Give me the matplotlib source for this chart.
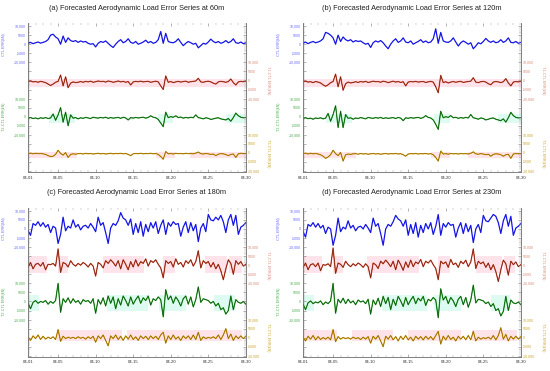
import matplotlib
matplotlib.use('Agg')
from matplotlib import pyplot as plt
from matplotlib import transforms
import matplotlib.dates as mdates
import numpy as np
import pandas as pd

plt.rcParams['font.family'] = ['Liberation Sans', 'DejaVu Sans']

# 8-hourly forecast times, 04-01 .. 04-30
times = pd.date_range('2019-04-01', '2019-04-30', freq='8h')

# ---- 60m ----
ctl_60 = [500, 1000, 300, 800, 1200, 600, 1000, 1500, 2500,
          5000, 5500, 4000, 3000, 0, 4500, 1000, 3500, 2000,
          1500, 2000, 1000, 1800, 1200, 1500, 500, 0, 300,
          -1500, 500, 1500, 1000, 1800, 500, -800, -1800, 0,
          1500, 2500, 800, 1500, 3000, 1000, 500, 1500, 0,
          500, 1200, 2200, 800, 1500, 500, 1000, 2500, 7000,
          500, 6000, 1500, 1000, 800, 1500, 3000, 1000, -800,
          500, 1500, 800, 0, 500, -2000, -800, 500, 0,
          1200, 2800, 1500, 800, 1500, 500, 1000, 2000, 800,
          1500, 3000, 800, 500, 1200, 300, 800]
t1_60 = [-500, -300, -800, -600, -1000, -500, -800, -1200, -2000,
         -2800, -2000, -1000, -500, 3000, -3000, 2000, -4000, -1500,
         -800, -1200, -1000, -600, -1000, -500, -800, -400, -1000,
         -700, -300, -600, -500, -900, -300, -600, -1000, -700,
         -300, -800, -500, -1000, -600, -2500, -800, -500, -700,
         -400, -800, -600, -500, -1000, -700, -400, -800, -3000,
         -5000, 2500, -1000, -600, -1200, -800, -500, -900, -600,
         -400, -1000, -700, -500, -300, 1200, -800, -1000, -600,
         -400, -800, -1500, -2000, -800, -500, -700, -1000, -600,
         800, -1200, -2500, -800, -500, -700, -400]
t2_60 = [-800, -500, -1000, -700, -1200, -600, -900, -500, -1000,
         -700, 1500, -2000, 1000, 5000, -3000, 2500, -5000, 1000,
         -800, -500, -1200, -600, -900, -400, -700, -1000, -300,
         -600, -800, -400, -700, -300, -900, -500, -800, -600,
         -400, -900, -300, -700, -1800, -500, -800, -400, -700,
         -500, -300, -800, -400, 500, -300, -600, -1500, -3500,
         -5500, 2500, -500, 0, -300, 500, -500, -200, -800,
         -400, -700, -300, -600, 1000, -500, -800, -1200, -600,
         -900, -1500, -1200, -800, -600, -1200, -1500, -1800, -1000,
         -2500, -500, 2000, 500, -300, -600, -400]
t3_60 = [-300, -100, -500, -200, -400, -300, -500, -800, -1500,
         -2000, -1800, -800, 1500, -300, -1200, 200, -2500, -800,
         -500, -700, -400, -300, -600, -200, -500, -300, -600,
         -400, -200, -500, -300, -600, -400, -200, -500, -300,
         -400, -200, -500, -300, -800, -1500, -500, -300, -400,
         -200, -500, -300, -400, -200, -500, -300, -800, -2000,
         -3500, 800, -500, -300, -600, -200, -400, -300, -500,
         -200, -400, -300, -500, -100, 500, -400, -600, -300,
         -500, -800, -600, -1500, -700, -400, -500, -900, -1500,
         -800, -600, -2500, -500, -200, -400, -300]

# ---- 120m ----
ctl_120 = [500, 1200, 300, 1000, 1500, 800, 1200, 1800, 3000,
           6500, 6000, 5000, 3500, 0, 5000, 1500, 4000, 2500,
           1800, 2500, 1200, 2000, 1500, 1800, 800, 0, 500,
           -1800, 800, 1800, 1200, 2000, 800, -1000, -2500, 0,
           1800, 3000, 1000, 1800, 3500, 1200, 800, 1800, 0,
           800, 1500, 2500, 1000, 1800, 800, 1200, 3000, 8500,
           500, 6500, 1800, 1200, 1000, 1800, 3500, 1200, -1000,
           800, 1800, 1000, 0, 800, -2500, -1000, 800, 200,
           1500, 3200, 1800, 1000, 1800, 800, 1200, 2500, 1000,
           1800, 3500, 1000, 800, 1500, 500, 1000]
t1_120 = [-600, -400, -900, -700, -1200, -600, -900, -1400, -2400,
          -3200, -2400, -1200, -600, 3500, -3500, 2000, -5400, -1800,
          -900, -1400, -1100, -700, -1100, -600, -900, -500, -1100,
          -800, -400, -700, -600, -1000, -400, -700, -1200, -800,
          -400, -900, -600, -1100, -700, -3000, -900, -600, -800,
          -500, -900, -700, -600, -1100, -800, -500, -900, -3500,
          -6800, 2800, -1200, -700, -1400, -900, -600, -1000, -700,
          -500, -1100, -800, -600, -400, 1500, -900, -1200, -700,
          -500, -900, -1800, -2400, -900, -600, -800, -1200, -700,
          1000, -1400, -3000, -900, -600, -800, -500]
t2_120 = [-900, -600, -1100, -800, -1400, -700, -1000, -600, -1200,
          -800, 1800, -2500, 1200, 6000, -6000, 3000, -6000, 1200,
          -900, -600, -1400, -700, -1000, -500, -800, -1200, -400,
          -700, -900, -500, -800, -400, -1000, -600, -900, -700,
          -500, -1000, -400, -800, -2200, -600, -900, -500, -800,
          -600, -400, -900, -500, 600, -400, -700, -1800, -4200,
          -7000, 3000, -600, 0, -400, 600, -600, -300, -900,
          -500, -800, -400, -700, 1200, -600, -900, -1400, -700,
          -1000, -1800, -1400, -900, -700, -1400, -1800, -2200, -1200,
          -3000, -600, 2400, 600, -400, -700, -500]
t3_120 = [-300, -100, -600, -200, -500, -300, -600, -1000, -1800,
          -3000, -2200, -1000, 1500, -400, -1500, 300, -4500, -1000,
          -600, -800, -500, -400, -700, -300, -600, -400, -700,
          -500, -300, -600, -400, -700, -500, -300, -600, -400,
          -500, -300, -600, -400, -1000, -1800, -600, -400, -500,
          -300, -600, -400, -500, -300, -600, -400, -1000, -2500,
          -4500, 1000, -600, -400, -700, -300, -500, -400, -600,
          -300, -500, -400, -600, -200, 600, -500, -700, -400,
          -600, -1000, -700, -1800, -800, -500, -600, -1000, -1800,
          -1000, -700, -3000, -600, -300, -500, -400]

# ---- 180m ----
ctl_180 = [-1000, -3500, 3000, 2000, 4000, 1500, 3500, 1000, 2500,
           -2000, 1500, 500, -8000, -3000, 6500, -1000, 1500, 500,
           5000, 1000, 2500, -500, 1500, 2000, 500, 3000, 1000,
           -1500, 6500, 2000, 3500, -2000, -8000, 500, 3000, 2000,
           4500, 9000, 6000, 5000, 2000, 5500, -3000, 3000, -2000,
           4000, -4000, 2500, -1500, 3500, 500, 4000, -2500, 2000,
           5000, -3000, 3500, 1500, 4000, 2500, 3000, -4000, 1000,
           4000, -2000, 3500, -1000, 2500, -7000, 500, 3000, -1500,
           8000, 5000, 4500, 6500, 5000, 7500, 4000, -2000, 5000,
           8000, 2000, 7500, -3000, 1000, 2000, 3500]
t1_180 = [-1000, 1500, -2000, 500, 1000, -500, 1500, -2500, 500,
          300, 1000, -500, 9000, -4000, 1500, 800, -1000, 2500,
          500, -500, 1000, 0, 1500, 500, -1000, 1000, -500,
          -6000, 1500, 500, -1500, 2500, 1000, 3000, 1500, -500,
          2500, -2000, 3000, 500, -2500, 2000, -1000, 3000, -500,
          2000, 1000, 3500, -500, 2500, 1500, 3000, 500, -1500,
          -7000, 2500, 1000, 2000, -1000, 3500, 500, 1500, -1000,
          2500, 1000, 3000, -500, 2000, 8000, -1500, 2500, 1000,
          2000, -1000, 1500, -2000, 500, -3000, -8000, -2000, 3000,
          1000, -5000, 2500, 500, 2000, -500, 500]
t2_180 = [-1000, -4000, -500, 500, -1000, 0, -500, 500, -1500,
          0, -1000, 500, 10000, -6000, 1500, -500, 2000, -1000,
          1500, -500, 500, -1500, 1000, 0, 500, -1000, 1500,
          -6500, 1000, -1500, 2000, -2500, 3000, -1000, 2500, -4000,
          1500, -2000, 3000, 500, -2500, 2500, -1500, 1000, 3000,
          -1000, 2000, 500, 3000, -2000, 1500, 500, 2500, 1000,
          -8500, 6500, 1000, 3000, -1000, 2500, 500, -2500, 1500,
          3000, -1500, 2500, -3000, 1000, 8000, -500, 1500, 1000,
          500, -1000, 0, -2500, -1000, -4500, -3500, -7000, -5000,
          3000, -4500, 1000, -500, -1000, 0, -1500]
t3_180 = [500, -1500, 1000, -500, 1500, -1000, 800, -800, 300,
          -500, 500, -1000, 4500, -2000, 800, -500, 300, -300,
          200, -500, 500, -300, 200, -800, 500, -500, 800,
          -2500, 1000, -500, 1500, -1500, -4500, 1000, -500, 1500,
          -1000, 800, -1500, 1000, -800, 1500, -1000, 500, -1500,
          1000, -500, 800, -1000, 1000, -500, 800, -1000, 1500,
          3000, -3000, 1000, -1000, 1500, -800, 500, -1500, 1000,
          -500, 1000, -1000, 1500, -1000, 3000, -1500, 500, -500,
          200, -300, 500, -500, 1500, -1000, 1500, 5000, -500,
          2000, -1500, 1000, -500, 1000, -500, 800]

# ---- 230m ----
ctl_230 = [-1500, -4500, 2500, 1500, 3500, 1000, 3000, 500, 2000,
           -2500, 1000, 0, -9000, -3500, 6000, -1500, 1000, 0,
           4500, 500, 2000, -1000, 1000, 1500, 0, 2500, 500,
           -2000, 6000, 1500, 3000, -2500, -9000, 0, 2500, 1500,
           4000, 7500, 5500, 4500, 1500, 5000, -3500, 2500, -2500,
           3500, -4500, 2000, -2000, 3000, 0, 3500, -3000, 1500,
           8000, -3500, 3000, 1000, 3500, 2000, 2500, -4500, 500,
           3500, -2500, 3000, -1500, 2000, -7500, 0, 2500, -2000,
           7500, 4500, 4000, 6000, 8000, 7000, 3500, -2500, 4500,
           8000, 1500, 7000, -3500, 500, 1500, 3000]
t1_230 = [-1200, 1200, -2500, 300, 800, -800, 1200, -3000, 300,
          0, 800, -800, 9500, -4500, 1200, 500, -1200, 2200,
          300, -800, 800, -300, 1200, 300, -1200, 800, -800,
          -7000, 1200, 300, -1800, 2200, 800, 2800, 1200, -800,
          2200, -2500, 2800, 300, -2800, 1800, -1200, 2800, -800,
          1800, 800, 3200, -800, 2200, 1200, 2800, 300, -1800,
          -8000, 2200, 800, 1800, -1200, 3200, 300, 1200, -1200,
          2200, 800, 2800, -800, 1800, 9000, -1800, 2200, 800,
          1800, -1200, 1200, -2500, 300, -3500, -9000, -2500, 2800,
          800, -5500, 2200, 300, 1800, -800, 300]
t2_230 = [-1500, -4500, -800, 300, -1200, -300, -800, 300, -1800,
          -300, -1200, 300, 10000, -6500, 1200, -800, 1800, -1200,
          1200, -800, 300, -1800, 800, -300, 300, -1200, 1200,
          -7000, 800, -1800, 1800, -2800, 2800, -1200, 2200, -4500,
          1200, -2200, 2800, 300, -2800, 2200, -1800, 800, 2800,
          -1200, 1800, 300, 2800, -2200, 1200, 300, 2200, 800,
          -9000, 7000, 800, 2800, -1200, 2200, 300, -2800, 1200,
          2800, -1800, 2200, -3200, 800, 9000, -800, 1200, 800,
          300, -1200, -300, -2800, -1200, -5000, -4000, -8000, -5500,
          2800, -5000, 800, -800, -1200, -300, -1800]
t3_230 = [300, -1800, 800, -800, 1200, -1200, 600, -1000, 100,
          -800, 300, -1200, 4500, -2200, 600, -800, 100, -500,
          0, -800, 300, -500, 0, -1000, 300, -800, 600,
          -3000, 800, -800, 1200, -1800, -5000, 800, -800, 1200,
          -1200, 600, -1800, 800, -1000, 1200, -1200, 300, -1800,
          800, -800, 600, -1200, 800, -800, 600, -1200, 1200,
          3500, -3500, 800, -1200, 1200, -1000, 300, -1800, 800,
          -800, 800, -1200, 1200, -1200, 3500, -1800, 300, -800,
          0, -500, 300, -800, 1200, -1200, 1200, 5500, -800,
          1800, -1800, 800, -800, 800, -800, 600]

# highlighted periods (day from 04-01) and band heights (kN)
bands_60 = {'t1': [(0, 29)], 't2': [(2.8, 6.2), (17.3, 19.3), (26.3, 29)],
            't3': [(0, 6.5), (17, 19.5), (21.5, 29)]}
bands_120 = {'t1': [(0, 29)], 't2': [(3, 6.5), (17.5, 19.5), (26, 29)],
             't3': [(0, 7), (17, 19.5), (22, 29)]}
bands_180 = {'t1': [(0, 2.5), (4, 5.3), (10, 15.5), (18, 19.5), (23.5, 26.5), (26.8, 28.5)],
             't2': [(0, 1.5), (10.5, 16), (17.5, 21), (24.8, 27.5)],
             't3': [(3.8, 12.5), (13.2, 28.5)]}
bands_230 = {'t1': [(0, 2.5), (4, 5.3), (8.5, 15.5), (18, 19.5), (23, 26.5), (26.8, 28.2)],
             't2': [(0, 1.5), (10.5, 16.5), (17.5, 21), (25, 27.5)],
             't3': [(0, 4.5), (6.5, 12), (14, 21), (22.5, 28.5)]}
band_y_low = {'t1': (-3500, 1000), 't2': (-3500, 1700), 't3': (-2800, 500)}
band_y_high = {'t1': (-4500, 5000), 't2': (-5500, 3300), 't3': (-1800, 4500)}

OFFSET = {'ctl': 0, 't1': -20000, 't2': -40000, 't3': -60000}
LINE = {'ctl': ('#1414e6', None), 't1': ('#e0402a', '#4a2410'),
        't2': ('#22a022', '#0e400e'), 't3': ('#d8a010', '#7a5800')}
LABCOL = {'ctl': '#6a6aff', 't1': '#d98a78', 't2': '#4cae50', 't3': '#c9a52a'}
BANDCOL = {'t1': '#ffe3ea', 't2': '#ddfbf1', 't3': '#ffe3ea'}
NAMES = {'ctl': 'CTL ERR(kN)', 't1': 'T1-CTL ERR(kN)', 't2': 'T2-CTL ERR(kN)', 't3': 'T3-CTL ERR(kN)'}


def fmtTick(v):
    s = f'{abs(v):,}' if abs(v) >= 10000 else f'{abs(v)}'
    return '-' + s if v < 0 else s


def plotPanel(fig, rect, title, series, bands, band_y):
    ax = fig.add_axes(rect)
    rx = ax.twinx()
    t0 = times[0]
    for key in ['t1', 't2', 't3']:
        lo, hi = band_y[key]
        for a, b in bands[key]:
            ax.fill_between([t0 + pd.Timedelta(days=a), t0 + pd.Timedelta(days=b)],
                            lo + OFFSET[key], hi + OFFSET[key], color=BANDCOL[key], lw=0, zorder=0)
    for key, vals in series.items():
        y = np.array(vals) + OFFSET[key]
        c1, c2 = LINE[key]
        if c2 is None:
            ax.plot(times, y, color=c1, lw=0.9, zorder=3)
        else:
            ax.plot(times, y, color=c1, lw=0.9, zorder=3)
            ax.plot(times, y, color=c2, lw=0.35, zorder=4)

    ylim = (-70600, 11700)
    ax.set_ylim(ylim)
    rx.set_ylim(ylim)
    ax.set_xlim(times[0], times[-1])

    ticks = list(range(-70000, 10001, 5000))
    left_lab, right_lab, left_col, right_col = [], [], [], []
    for t in ticks:
        if -10000 <= t <= 10000:
            left_lab.append(fmtTick(t)); left_col.append(LABCOL['ctl'])
        elif -50000 <= t <= -30000:
            left_lab.append(fmtTick(t + 40000)); left_col.append(LABCOL['t2'])
        else:
            left_lab.append(''); left_col.append('k')
        if -30000 <= t <= -10000:
            right_lab.append(fmtTick(t + 20000)); right_col.append(LABCOL['t1'])
        elif -70000 <= t <= -50000:
            right_lab.append(fmtTick(t + 60000)); right_col.append(LABCOL['t3'])
        else:
            right_lab.append(''); right_col.append('k')
    ax.set_yticks(ticks, labels=left_lab)
    rx.set_yticks(ticks, labels=right_lab)
    for lab, c in zip(ax.get_yticklabels(), left_col):
        lab.set_color(c)
    for lab, c in zip(rx.get_yticklabels(), right_col):
        lab.set_color(c)
    ax.yaxis.set_minor_locator(matplotlib.ticker.MultipleLocator(1000))
    rx.yaxis.set_minor_locator(matplotlib.ticker.MultipleLocator(1000))

    ax.xaxis.set_major_locator(mdates.DayLocator(bymonthday=[1, 5, 10, 15, 20, 25, 30]))
    ax.xaxis.set_minor_locator(mdates.DayLocator())
    ax.xaxis.set_major_formatter(mdates.DateFormatter('%m-%d'))

    for a in (ax, rx):
        a.spines['top'].set_visible(False)
        for s in ('left', 'right', 'bottom'):
            a.spines[s].set_linewidth(0.5)
            a.spines[s].set_color('#777777')
    for a in (ax, rx):
        a.tick_params(axis='y', which='major', direction='in', length=2.2, width=0.4,
                      color='#777777', labelsize=2.5, pad=1.5)
        a.tick_params(axis='y', which='minor', direction='in', length=1.1, width=0.3, color='#999999')
    ax.tick_params(axis='x', which='major', direction='in', length=2.5, width=0.4, top=True,
                   color='#777777', labelsize=3.1, pad=2.5, labelcolor='#333333')
    ax.tick_params(axis='x', which='minor', direction='in', length=1.2, width=0.3, top=True,
                   color='#999999')

    tr = transforms.blended_transform_factory(ax.transAxes, ax.transData)
    for key, xpos, rot in [('ctl', -0.11, 90), ('t2', -0.11, 90), ('t1', 1.10, 270), ('t3', 1.10, 270)]:
        ax.text(xpos, OFFSET[key], NAMES[key], transform=tr, rotation=rot, fontsize=2.7,
                color=LABCOL[key], ha='center', va='center')
    ax.text(0.5, 1.10, title, transform=ax.transAxes, ha='center', va='center',
            fontsize=5.3, color='#222222')


def main():
    fig = plt.figure(figsize=(5.5, 3.71), dpi=100)
    w, h = 0.396, 0.402
    plotPanel(fig, [0.051, 0.536, w, h], '(a) Forecasted Aerodynamic Load Error Series at 60m',
              {'ctl': ctl_60, 't1': t1_60, 't2': t2_60, 't3': t3_60}, bands_60, band_y_low)
    plotPanel(fig, [0.551, 0.536, w, h], '(b) Forecasted Aerodynamic Load Error Series at 120m',
              {'ctl': ctl_120, 't1': t1_120, 't2': t2_120, 't3': t3_120}, bands_120, band_y_low)
    plotPanel(fig, [0.051, 0.038, w, h], '(c) Forecasted Aerodynamic Load Error Series at 180m',
              {'ctl': ctl_180, 't1': t1_180, 't2': t2_180, 't3': t3_180}, bands_180, band_y_high)
    plotPanel(fig, [0.551, 0.038, w, h], '(d) Forecasted Aerodynamic Load Error Series at 230m',
              {'ctl': ctl_230, 't1': t1_230, 't2': t2_230, 't3': t3_230}, bands_230, band_y_high)
    fig.savefig('out.png', dpi=100)


if __name__ == "__main__":
    main()
